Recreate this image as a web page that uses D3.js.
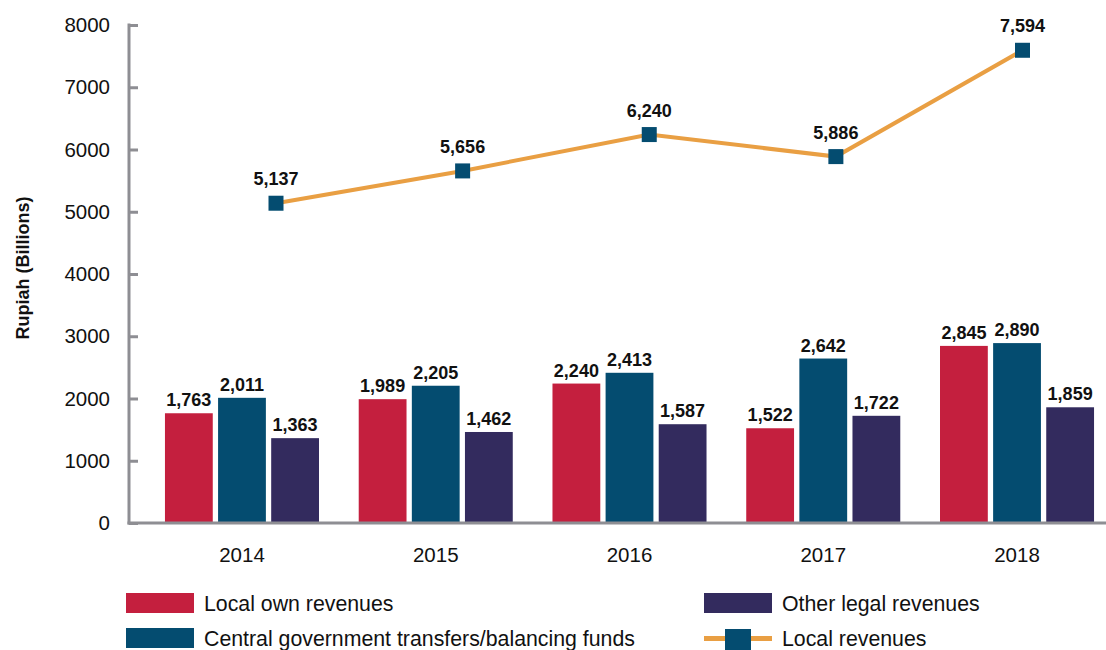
<!DOCTYPE html>
<html>
<head>
<meta charset="utf-8">
<script src="https://cdn.jsdelivr.net/npm/d3@7"></script>
<style>
  body { margin: 0; background: #fff; }
  svg { display: block; font-family: "Liberation Sans", Arial, Helvetica, sans-serif; }
</style>
</head>
<body>
<div id="chart"></div>
<script>
// Data
const years = ["2014", "2015", "2016", "2017", "2018"];
const localOwn = [1763, 1989, 2240, 1522, 2845];
const centralTransfers = [2011, 2205, 2413, 2642, 2890];
const otherLegal = [1363, 1462, 1587, 1722, 1859];
const localRevenues = [5137, 5656, 6240, 5886, 7594];
const yTicks = [0, 1000, 2000, 3000, 4000, 5000, 6000, 7000, 8000];

const barSeries = [
  {name: "Local own revenues", values: localOwn, color: "#c41f3e"},
  {name: "Central government transfers/balancing funds", values: centralTransfers, color: "#044c70"},
  {name: "Other legal revenues", values: otherLegal, color: "#332b5e"}
];
const lineColor = "#e99f43";
const markerColor = "#044c70";
const axisColor = "#8e8e93";

const width = 1106, height = 650;
const svg = d3.select("#chart").append("svg")
  .attr("width", width)
  .attr("height", height);

// Scales
const y = d3.scaleLinear().domain([0, 8000]).range([523, 25]);

const x0 = d3.scaleBand()
  .domain(years)
  .range([145, 1114])
  .paddingInner(0.205)
  .paddingOuter(0.103);

const x1 = d3.scaleBand()
  .domain(d3.range(barSeries.length))
  .range([0, x0.bandwidth()])
  .paddingInner(0.1);

// the line in the original sits on its own, slightly narrower, x positions
const xLine = d3.scalePoint().domain(years).range([276, 1022.5]);

const fmt = d3.format(",");

// Y axis
const yAxis = svg.append("g")
  .attr("transform", "translate(129,0)")
  .call(d3.axisRight(y).tickValues(yTicks).tickSize(9).tickFormat(""));
yAxis.select(".domain").remove();
yAxis.selectAll(".tick line").attr("stroke", axisColor).attr("stroke-width", 3);
svg.append("line")
  .attr("x1", 129).attr("x2", 129)
  .attr("y1", y(8000) - 1.5).attr("y2", y(0) + 1.5)
  .attr("stroke", axisColor).attr("stroke-width", 3);

// y tick labels
svg.selectAll(".yLabel")
  .data(yTicks)
  .join("text")
    .attr("class", "yLabel")
    .attr("x", 110)
    .attr("y", d => y(d) + 7)
    .attr("text-anchor", "end")
    .style("font-size", "20.5px")
    .style("fill", "#111")
    .text(d => d);

// y title
svg.append("text")
  .attr("transform", "translate(29,268) rotate(-90)")
  .attr("text-anchor", "middle")
  .style("font-size", "18px")
  .style("font-weight", "bold")
  .style("fill", "#111")
  .text("Rupiah (Billions)");

// Bars
const groups = svg.selectAll(".year")
  .data(years)
  .join("g")
    .attr("class", "year")
    .attr("transform", d => `translate(${x0(d)},0)`);

groups.selectAll("rect")
  .data((d, i) => barSeries.map((s, j) => ({j: j, value: s.values[i], color: s.color})))
  .join("rect")
    .attr("x", d => x1(d.j))
    .attr("y", d => y(d.value))
    .attr("width", x1.bandwidth())
    .attr("height", d => y(0) - y(d.value))
    .attr("fill", d => d.color);

groups.selectAll("text")
  .data((d, i) => barSeries.map((s, j) => ({j: j, value: s.values[i]})))
  .join("text")
    .attr("x", d => x1(d.j) + x1.bandwidth() / 2)
    .attr("y", d => y(d.value) - 7)
    .attr("text-anchor", "middle")
    .style("font-size", "18px")
    .style("font-weight", "bold")
    .style("fill", "#111")
    .text(d => fmt(d.value));

// X axis line + labels
svg.append("line")
  .attr("x1", 127.5).attr("x2", 1106)
  .attr("y1", y(0)).attr("y2", y(0))
  .attr("stroke", axisColor).attr("stroke-width", 3);

svg.selectAll(".xLabel")
  .data(years)
  .join("text")
    .attr("class", "xLabel")
    .attr("x", d => x0(d) + x0.bandwidth() / 2)
    .attr("y", 562)
    .attr("text-anchor", "middle")
    .style("font-size", "20.5px")
    .style("fill", "#111")
    .text(d => d);

// Line series
const lineData = years.map((yr, i) => ({year: yr, value: localRevenues[i]}));
const line = d3.line()
  .x(d => xLine(d.year))
  .y(d => y(d.value));

svg.append("path")
  .datum(lineData)
  .attr("fill", "none")
  .attr("stroke", lineColor)
  .attr("stroke-width", 4)
  .attr("d", line);

const markerSize = 15;
svg.selectAll(".marker")
  .data(lineData)
  .join("rect")
    .attr("class", "marker")
    .attr("x", d => xLine(d.year) - markerSize / 2)
    .attr("y", d => y(d.value) - markerSize / 2)
    .attr("width", markerSize)
    .attr("height", markerSize)
    .attr("fill", markerColor);

svg.selectAll(".lineLabel")
  .data(lineData)
  .join("text")
    .attr("class", "lineLabel")
    .attr("x", d => xLine(d.year))
    .attr("y", d => y(d.value) - 18)
    .attr("text-anchor", "middle")
    .style("font-size", "18px")
    .style("font-weight", "bold")
    .style("fill", "#111")
    .text(d => fmt(d.value));

// Legend
const legendItems = [
  {name: barSeries[0].name, color: barSeries[0].color, x: 126, y: 593, type: "bar"},
  {name: barSeries[1].name, color: barSeries[1].color, x: 126, y: 628, type: "bar"},
  {name: barSeries[2].name, color: barSeries[2].color, x: 704, y: 593, type: "bar"},
  {name: "Local revenues", color: lineColor, x: 704, y: 628, type: "line"}
];

const legend = svg.selectAll(".legend")
  .data(legendItems)
  .join("g")
    .attr("class", "legend")
    .attr("transform", d => `translate(${d.x},${d.y})`);

legend.filter(d => d.type === "bar")
  .append("rect")
    .attr("width", 68)
    .attr("height", 20)
    .attr("fill", d => d.color);

const lineLegend = legend.filter(d => d.type === "line");
lineLegend.append("line")
  .attr("x1", 0).attr("x2", 68)
  .attr("y1", 10.5).attr("y2", 10.5)
  .attr("stroke", lineColor)
  .attr("stroke-width", 5);
lineLegend.append("rect")
  .attr("x", 21).attr("y", 1)
  .attr("width", 26).attr("height", 26)
  .attr("fill", markerColor);

legend.append("text")
  .attr("x", 78)
  .attr("y", 17.5)
  .style("font-size", "21.3px")
  .style("fill", "#111")
  .text(d => d.name);
</script>
</body>
</html>
